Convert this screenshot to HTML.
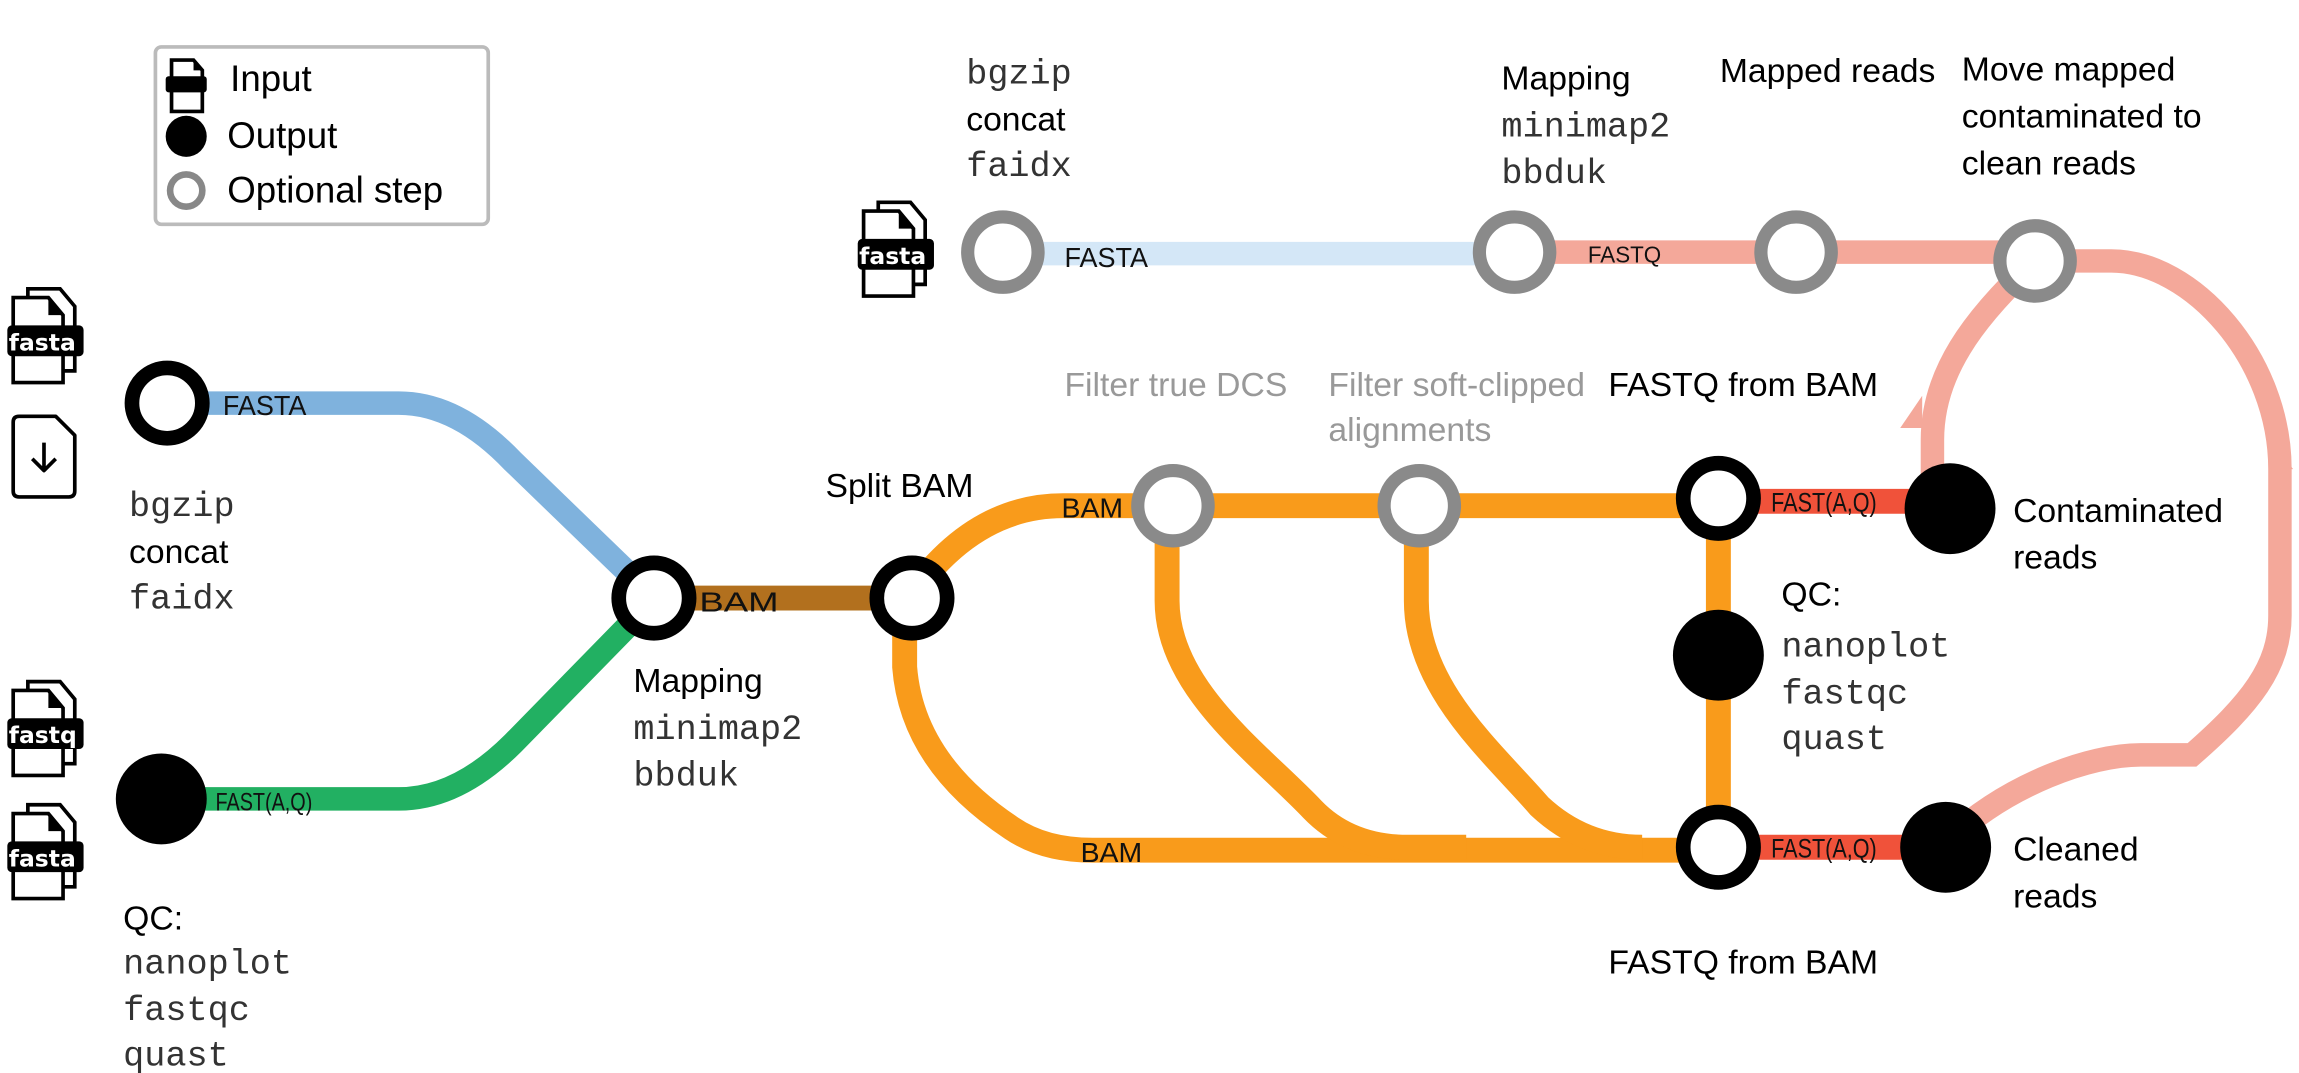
<!DOCTYPE html>
<html><head><meta charset="utf-8"><style>
html,body{margin:0;padding:0;background:#fff;}
svg{display:block;}
.s{font-family:"Liberation Sans",sans-serif;}
.m{font-family:"Liberation Mono",monospace;fill:#333;}
</style></head><body>
<svg width="2299" height="1073" viewBox="0 0 1568 732" preserveAspectRatio="none" xmlns="http://www.w3.org/2000/svg">
<!-- legend -->
<rect x="106" y="32" width="227" height="121" rx="4" fill="#fff" stroke="#bbb" stroke-width="2.5"/>
<g transform="translate(111,38)">
 <path d="M6,3 H21 L27,10 V38 H6 Z" fill="#fff" stroke="#000" stroke-width="2.5"/>
 <rect x="2" y="14" width="28" height="11" rx="2" fill="#000"/>
 <path d="M21,3 V10 H27" fill="#000"/>
</g>
<text class="s" x="157" y="62" font-size="25">Input</text>
<circle cx="127" cy="93" r="14" fill="#000"/>
<text class="s" x="155" y="101" font-size="25">Output</text>
<circle cx="127" cy="130" r="11" fill="#fff" stroke="#888" stroke-width="4.5"/>
<text class="s" x="155" y="138" font-size="25">Optional step</text>

<!-- lines -->
<g fill="none" stroke-linecap="butt">
<path d="M140,275 H272 Q312,275 350,315 L440,402" stroke="#7fb2dd" stroke-width="16"/>
<path d="M120,545 H272 Q312,545 350,507 L440,415" stroke="#22b062" stroke-width="16"/>
<path d="M446,408 H622" stroke="#b2701e" stroke-width="17"/>
<path d="M622,405 Q665,345 725,345 H1175" stroke="#f99b1b" stroke-width="17"/>
<path d="M617,415 V455 Q622,520 690,565 Q712,580 745,580 H1175" stroke="#f99b1b" stroke-width="17"/>
<path d="M796,345 V410 C796,470 860,515 895,552 Q920,578 960,578 H1000" stroke="#f99b1b" stroke-width="17"/>
<path d="M966,345 V410 C966,470 1020,515 1050,550 Q1080,578 1120,578" stroke="#f99b1b" stroke-width="17"/>
<path d="M1172,340 V578" stroke="#f99b1b" stroke-width="17"/>
<path d="M1175,342 H1330" stroke="#f0523a" stroke-width="17"/>
<path d="M1175,578 H1327" stroke="#f0523a" stroke-width="17"/>
<path d="M684,173 H1033" stroke="#d4e7f7" stroke-width="16"/>
<path d="M1033,172 H1388" stroke="#f4a89a" stroke-width="16"/>
<path d="M1388,178 H1440 C1495,178 1555,245 1555,320 V420 C1555,455 1535,480 1495,515 H1460 C1425,515 1370,535 1330,572" stroke="#f4a89a" stroke-width="16"/>
<path d="M1388,178 C1345,218 1318,255 1318,300 V347" stroke="#f4a89a" stroke-width="16"/>
</g>
<path d="M1311,270 L1296,292 H1311 Z" fill="#f4a89a"/>
<path d="M1548,300 L1564,320 H1548 Z" fill="#f4a89a"/>

<!-- line labels -->
<g class="s" font-size="19" fill="#111">
<text x="152" y="283" textLength="57" lengthAdjust="spacingAndGlyphs">FASTA</text>
<text x="147" y="553" font-size="17" textLength="66" lengthAdjust="spacingAndGlyphs">FAST(A,Q)</text>
<text x="477" y="417" textLength="54" lengthAdjust="spacingAndGlyphs">BAM</text>
<text x="724" y="353" textLength="42" lengthAdjust="spacingAndGlyphs">BAM</text>
<text x="737" y="588" textLength="42" lengthAdjust="spacingAndGlyphs">BAM</text>
<text x="726" y="182" textLength="57" lengthAdjust="spacingAndGlyphs">FASTA</text>
<text x="1083" y="179" font-size="16" textLength="50" lengthAdjust="spacingAndGlyphs">FASTQ</text>
<text x="1208" y="349" font-size="18" textLength="72" lengthAdjust="spacingAndGlyphs">FAST(A,Q)</text>
<text x="1208" y="585" font-size="18" textLength="72" lengthAdjust="spacingAndGlyphs">FAST(A,Q)</text>
</g>

<!-- nodes -->
<g fill="#fff" stroke="#000" stroke-width="10">
<circle cx="114" cy="275" r="24"/>
<circle cx="446" cy="408" r="24"/>
<circle cx="622" cy="408" r="24"/>
<circle cx="1172" cy="340" r="24"/>
<circle cx="1172" cy="578" r="24"/>
</g>
<g fill="#fff" stroke="#8a8a8a" stroke-width="9">
<circle cx="684" cy="172" r="24"/>
<circle cx="1033" cy="172" r="24"/>
<circle cx="1225" cy="172" r="24"/>
<circle cx="1388" cy="178" r="24"/>
<circle cx="800" cy="345" r="24"/>
<circle cx="968" cy="345" r="24"/>
</g>
<g fill="#000">
<circle cx="110" cy="545" r="31"/>
<circle cx="1330" cy="347" r="31"/>
<circle cx="1327" cy="578" r="31"/>
<circle cx="1172" cy="447" r="31"/>
</g>

<!-- icons -->
<g transform="translate(5,197)">
 <path d="M14,0 H36 L46,12 V56 H14 Z" fill="#fff" stroke="#000" stroke-width="2.5"/>
 <path d="M4,6 H28 L38,18 V64 H4 Z" fill="#fff" stroke="#000" stroke-width="2.5"/>
 <path d="M28,6 V18 H38" fill="#000"/>
 <rect x="0" y="25" width="52" height="21" rx="3" fill="#000"/>
 <text x="1" y="42" font-family="DejaVu Sans,sans-serif" font-weight="bold" font-size="16" fill="#fff">fasta</text>
</g>
<g transform="translate(5,465)">
 <path d="M14,0 H36 L46,12 V56 H14 Z" fill="#fff" stroke="#000" stroke-width="2.5"/>
 <path d="M4,6 H28 L38,18 V64 H4 Z" fill="#fff" stroke="#000" stroke-width="2.5"/>
 <path d="M28,6 V18 H38" fill="#000"/>
 <rect x="0" y="25" width="52" height="21" rx="3" fill="#000"/>
 <text x="1" y="42" font-family="DejaVu Sans,sans-serif" font-weight="bold" font-size="16" fill="#fff">fastq</text>
</g>
<g transform="translate(5,549)">
 <path d="M14,0 H36 L46,12 V56 H14 Z" fill="#fff" stroke="#000" stroke-width="2.5"/>
 <path d="M4,6 H28 L38,18 V64 H4 Z" fill="#fff" stroke="#000" stroke-width="2.5"/>
 <path d="M28,6 V18 H38" fill="#000"/>
 <rect x="0" y="25" width="52" height="21" rx="3" fill="#000"/>
 <text x="1" y="42" font-family="DejaVu Sans,sans-serif" font-weight="bold" font-size="16" fill="#fff">fasta</text>
</g>
<g transform="translate(585,138)">
 <path d="M14,0 H36 L46,12 V56 H14 Z" fill="#fff" stroke="#000" stroke-width="2.5"/>
 <path d="M4,6 H28 L38,18 V64 H4 Z" fill="#fff" stroke="#000" stroke-width="2.5"/>
 <path d="M28,6 V18 H38" fill="#000"/>
 <rect x="0" y="25" width="52" height="21" rx="3" fill="#000"/>
 <text x="1" y="42" font-family="DejaVu Sans,sans-serif" font-weight="bold" font-size="16" fill="#fff">fasta</text>
</g>
<g transform="translate(8,283)" fill="none" stroke="#000" stroke-width="2.5" stroke-linejoin="round">
 <path d="M5,1 H30 L43,14 V52 Q43,56 39,56 H5 Q1,56 1,52 V5 Q1,1 5,1 Z"/>
 <path d="M22,19 V38 M14,30 L22,38 L30,30"/>
</g>

<!-- labels -->
<g class="s" font-size="23" fill="#000">
<text class="m" x="88" y="352" font-size="24">bgzip</text>
<text x="88" y="384">concat</text>
<text class="m" x="88" y="415" font-size="24">faidx</text>
<text x="84" y="634">QC:</text>
<text class="m" x="84" y="664" font-size="24">nanoplot</text>
<text class="m" x="84" y="696" font-size="24">fastqc</text>
<text class="m" x="84" y="727" font-size="24">quast</text>
<text x="432" y="472">Mapping</text>
<text class="m" x="432" y="504" font-size="24">minimap2</text>
<text class="m" x="432" y="536" font-size="24">bbduk</text>
<text x="563" y="339">Split BAM</text>
<text class="m" x="659" y="57" font-size="24">bgzip</text>
<text x="659" y="89">concat</text>
<text class="m" x="659" y="120" font-size="24">faidx</text>
<text x="1024" y="61">Mapping</text>
<text class="m" x="1024" y="93" font-size="24">minimap2</text>
<text class="m" x="1024" y="125" font-size="24">bbduk</text>
<text x="1173" y="56">Mapped reads</text>
<text x="1338" y="55">Move mapped</text>
<text x="1338" y="87">contaminated to</text>
<text x="1338" y="119">clean reads</text>
<text x="726" y="270" fill="#999">Filter true DCS</text>
<text x="906" y="270" fill="#999">Filter soft-clipped</text>
<text x="906" y="301" fill="#999">alignments</text>
<text x="1097" y="270">FASTQ from BAM</text>
<text x="1097" y="664">FASTQ from BAM</text>
<text x="1215" y="413">QC:</text>
<text class="m" x="1215" y="448" font-size="24">nanoplot</text>
<text class="m" x="1215" y="480" font-size="24">fastqc</text>
<text class="m" x="1215" y="511" font-size="24">quast</text>
<text x="1373" y="356">Contaminated</text>
<text x="1373" y="388">reads</text>
<text x="1373" y="587">Cleaned</text>
<text x="1373" y="619">reads</text>
</g>
</svg>
</body></html>
